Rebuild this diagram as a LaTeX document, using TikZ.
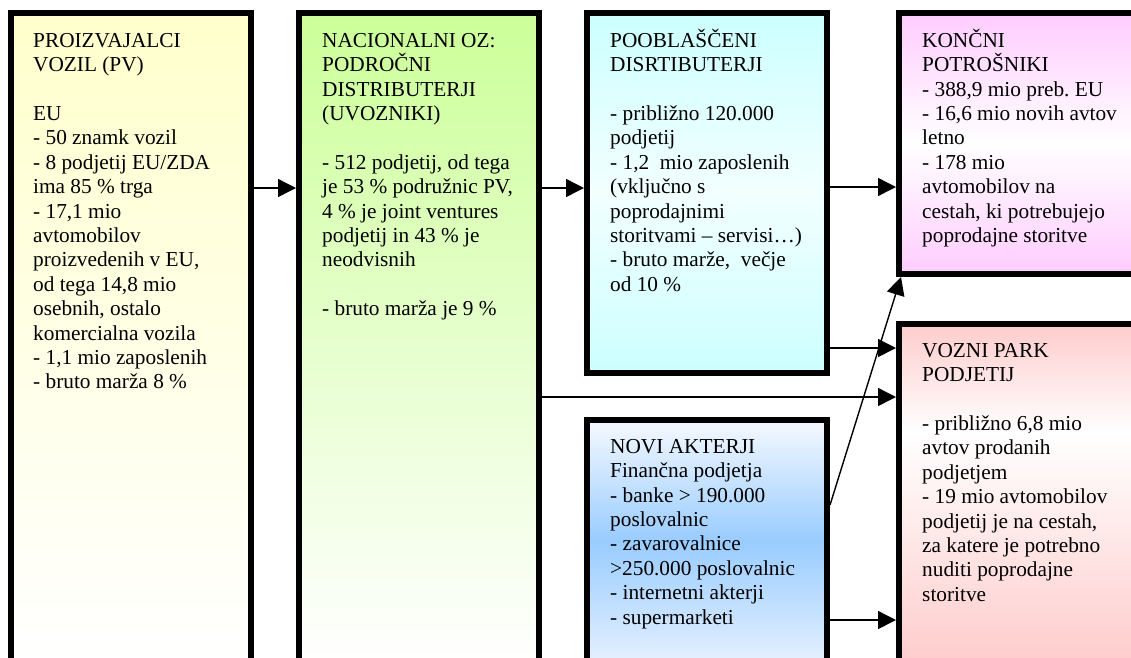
\documentclass[tikz,border=0pt]{standalone}
\usepackage{fontspec}
\setmainfont{Liberation Serif}
\usetikzlibrary{arrows.meta,calc}
\definecolor{ylw}{RGB}{255,255,204}
\definecolor{grn}{RGB}{204,255,153}
\definecolor{cyn}{RGB}{204,255,255}
\definecolor{cynmid}{RGB}{242,255,255}
\definecolor{blu}{RGB}{153,204,255}
\definecolor{blutop}{RGB}{245,249,255}
\definecolor{blubot}{RGB}{228,240,255}
\definecolor{pnk}{RGB}{255,204,255}
\definecolor{ros}{RGB}{255,204,204}
\pgfdeclareverticalshading{shSix}{100bp}{color(0bp)=(ros); color(25bp)=(ros); color(59bp)=(white); color(75bp)=(ros); color(100bp)=(ros)}
\tikzset{
  box/.style={draw=black, line width=6pt, inner sep=0pt, anchor=north west, rectangle},
  txt/.style={anchor=north west, inner sep=0pt, align=left, font=\fontsize{21.3}{24.4}\selectfont},
  conn/.style={line width=1.4pt, -{Triangle[length=18pt,width=18pt]}},
}
\newcommand{\fs}{\rule{0pt}{20pt}}
\frenchspacing
\begin{document}
\begin{tikzpicture}[x=1pt,y=-1pt]
\useasboundingbox (0,0) rectangle (1131,657);
\clip (0,0) rectangle (1131,657);
% boxes
\node[box, top color=ylw, bottom color=white, minimum width=240pt, minimum height=649pt] (b1) at (8,10) {};
\node[box, top color=grn, bottom color=white, minimum width=240pt, minimum height=649pt] (b2) at (296,10) {};
\node[box, top color=cyn, bottom color=cyn, middle color=cynmid, minimum width=240pt, minimum height=360pt] (b3) at (584,10) {};
\node[box, top color=blutop, bottom color=blubot, middle color=blu, minimum width=240pt, minimum height=242pt] (b4) at (584,417) {};
\node[box, top color=pnk, bottom color=pnk, middle color=white, minimum width=243pt, minimum height=261pt] (b5) at (896,10) {};
\node[box, shading=shSix, minimum width=243pt, minimum height=338pt] (b6) at (896,321) {};
% texts
\node[txt] (t1) at (33,27) {\fs PROIZVAJALCI\\VOZIL (PV)\\[24.4pt]EU\\- 50 znamk vozil\\- 8 podjetij EU/ZDA\\ima 85 \% trga\\- 17,1 mio\\avtomobilov\\proizvedenih v EU,\\od tega 14,8 mio\\osebnih, ostalo\\komercialna vozila\\- 1,1 mio zaposlenih\\- bruto marža 8 \%};
\node[txt] (t2) at (322,27) {\fs NACIONALNI OZ:\\PODROČNI\\DISTRIBUTERJI\\(UVOZNIKI)\\[24.4pt]- 512 podjetij, od tega\\je 53 \% podružnic PV,\\4 \% je joint ventures\\podjetij in 43 \% je\\neodvisnih\\[24.4pt]- bruto marža je 9 \%};
\node[txt] (t3) at (610,27) {\fs POOBLAŠČENI\\DISRTIBUTERJI\\[24.4pt]- približno 120.000\\podjetij\\- 1,2\ \ mio zaposlenih\\(vključno s\\poprodajnimi\\storitvami – servisi…)\\- bruto marže,\ \ večje\\od 10 \%};
\node[txt] (t4) at (610,433) {\fs NOVI AKTERJI\\Finančna podjetja\\- banke > 190.000\\poslovalnic\\- zavarovalnice\\>250.000 poslovalnic\\- internetni akterji\\- supermarketi};
\node[txt] (t5) at (922,27) {\fs KONČNI\\POTROŠNIKI\\- 388,9 mio preb. EU\\- 16,6 mio novih avtov\\letno\\- 178 mio\\avtomobilov na\\cestah, ki potrebujejo\\poprodajne storitve};
\node[txt] (t6) at (922,337) {\fs VOZNI PARK\\PODJETIJ\\[24.4pt]- približno 6,8 mio\\avtov prodanih\\podjetjem\\- 19 mio avtomobilov\\podjetij je na cestah,\\za katere je potrebno\\nuditi poprodajne\\storitve};
% helper coordinates
\coordinate (ya) at (0,188);
\coordinate (yb) at (0,187);
\coordinate (yc) at (0,348);
\coordinate (yd) at (0,397);
\coordinate (ye) at (0,505);
\coordinate (yf) at (0,620);
\coordinate (c5) at (901,277);
% connectors
\draw[conn] (b1.east |- ya) -- (b2.west |- ya);
\draw[conn] (b2.east |- ya) -- (b3.west |- ya);
\draw[conn] (b3.east |- yb) -- (b5.west |- yb);
\draw[conn] (b3.east |- yc) -- (b6.west |- yc);
\draw[conn] (b2.east |- yd) -- (b6.west |- yd);
\draw[conn] (b4.east |- ye) -- (c5);
\draw[conn] (b4.east |- yf) -- (b6.west |- yf);
\end{tikzpicture}
\end{document}
